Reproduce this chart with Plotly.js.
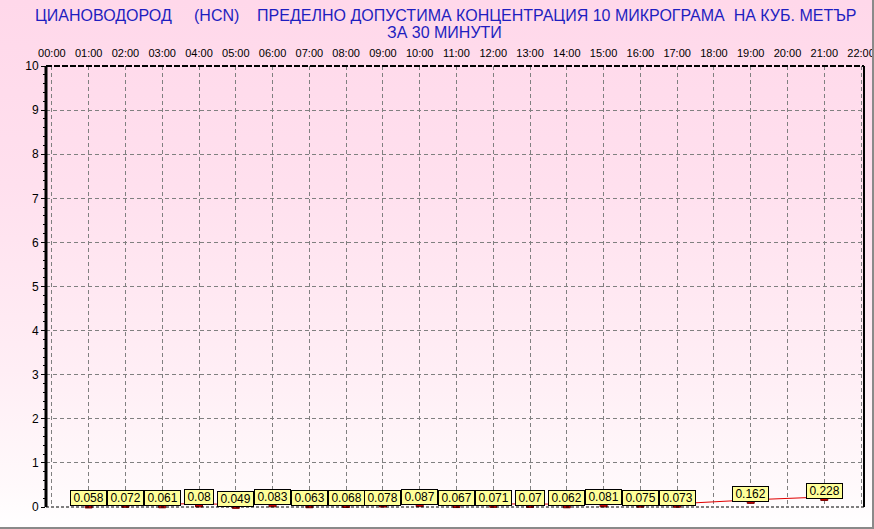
<!DOCTYPE html>
<html>
<head>
<meta charset="utf-8">
<script src="https://cdn.plot.ly/plotly-3.0.1.min.js"></script>
<style>
html,body{margin:0;padding:0;}
body{width:874px;height:529px;overflow:hidden;}
#wrap{position:relative;width:874px;height:529px;
 background:linear-gradient(to bottom,#FFD8EA 0%,#FFE0EE 35%,#FFEEF5 70%,#FFF9FB 92%,#FFFFFF 100%);}
#chart{position:absolute;left:0;top:0;width:874px;height:529px;}
#frame{position:absolute;left:0;top:0;width:874px;height:529px;box-sizing:border-box;
 border-right:2px solid #8a8a8a;border-bottom:2px solid #8a8a8a;pointer-events:none;}
</style>
</head>
<body>
<div id="wrap"><div id="chart"></div><div id="frame"></div></div>
<script>
// ---- data ----
var hourTicks = [0,1,2,3,4,5,6,7,8,9,10,11,12,13,14,15,16,17,18,19,20,21,22];
var hourLabels = ["00:00","01:00","02:00","03:00","04:00","05:00","06:00","07:00","08:00","09:00","10:00",
                  "11:00","12:00","13:00","14:00","15:00","16:00","17:00","18:00","19:00","20:00","21:00","22:00"];
var hours = [1,2,3,4,5,6,7,8,9,10,11,12,13,14,15,16,17,19,21];
var values = [0.058,0.072,0.061,0.08,0.049,0.083,0.063,0.068,0.078,0.087,0.067,0.071,0.07,0.062,0.081,0.075,0.073,0.162,0.228];
var yTicks = [0,1,2,3,4,5,6,7,8,9,10];
var titleLine1 = "ЦИАНОВОДОРОД\u00A0\u00A0\u00A0\u00A0\u00A0(HCN)\u00A0\u00A0\u00A0\u00A0ПРЕДЕЛНО ДОПУСТИМА КОНЦЕНТРАЦИЯ 10 МИКРОГРАМА\u00A0\u00A0НА КУБ. МЕТЪР";
var titleLine2 = "ЗА 30 МИНУТИ";

var fontFam = "Liberation Sans, Arial, sans-serif";

var trace = {
  x: hours, y: values, type: "scatter", mode: "lines+markers",
  line: {color: "#E00000", width: 1},
  marker: {symbol: "square", size: 7, color: "#CC0000", line: {color: "#7a0000", width: 1}},
  hoverinfo: "skip", cliponaxis: false
};

var annotations = hours.map(function(h, i){
  return {x: h, y: values[i], xref: "x", yref: "y", text: "\u2009" + String(values[i]) + "\u2009",
    showarrow: false, yanchor: "bottom", xanchor: "center", yshift: -2,
    font: {family: fontFam, size: 12, color: "#000"},
    bgcolor: "#FFFF99", bordercolor: "#000", borderwidth: 1, borderpad: 0};
});
annotations.push({xref: "paper", yref: "paper", x: 0.489, y: 1.1134, xanchor: "center", yanchor: "middle",
  text: titleLine1, showarrow: false, font: {family: fontFam, size: 16, color: "#1E1EC0"}});
annotations.push({xref: "paper", yref: "paper", x: 0.487, y: 1.077, xanchor: "center", yanchor: "middle",
  text: titleLine2, showarrow: false, font: {family: fontFam, size: 16, color: "#1E1EC0"}});

var layout = {
  width: 874, height: 529,
  margin: {l: 46, r: 10, t: 66, b: 22, pad: 0},
  paper_bgcolor: "rgba(0,0,0,0)", plot_bgcolor: "rgba(0,0,0,0)",
  showlegend: false,
  font: {family: fontFam, size: 11, color: "#000"},
  xaxis: {
    side: "top", range: [-0.16, 22.08], tickvals: hourTicks, ticktext: hourLabels,
    showgrid: true, gridcolor: "#808080", gridwidth: 1, griddash: "4px,3px",
    zeroline: false, showline: false, ticks: "outside", ticklen: 4, tickcolor: "rgba(0,0,0,0)",
    ticklabeloverflow: "allow",
    tickfont: {family: fontFam, size: 11, color: "#000"}, fixedrange: true
  },
  yaxis: {
    range: [0, 10], tickvals: yTicks, ticktext: yTicks.map(String),
    showgrid: true, gridcolor: "#808080", gridwidth: 1, griddash: "4px,3px",
    zeroline: false, showline: false, ticks: "outside", ticklen: 4, tickcolor: "#000",
    minor: {ticks: "outside", ticklen: 2, dtick: 0.2, tickcolor: "#000", showgrid: false},
    tickfont: {family: fontFam, size: 12, color: "#000"}, fixedrange: true
  },
  shapes: [
    {type: "line", xref: "paper", yref: "paper", x0: 0, x1: 1, y0: 1, y1: 1, line: {color: "#000", width: 2, dash: "6px,2px"}},
    {type: "line", xref: "paper", yref: "paper", x0: 0, x1: 1, y0: 0, y1: 0, line: {color: "#000", width: 1, dash: "3px,2px"}},
    {type: "line", xref: "paper", yref: "paper", x0: 1, x1: 1, y0: 0, y1: 1, line: {color: "#000", width: 2}},
    {type: "line", xref: "paper", yref: "paper", x0: 0, x1: 0, y0: 0, y1: 1, line: {color: "#000", width: 3}}
  ],
  annotations: annotations
};

Plotly.newPlot("chart", [trace], layout, {staticPlot: true, displayModeBar: false});
</script>
</body>
</html>
